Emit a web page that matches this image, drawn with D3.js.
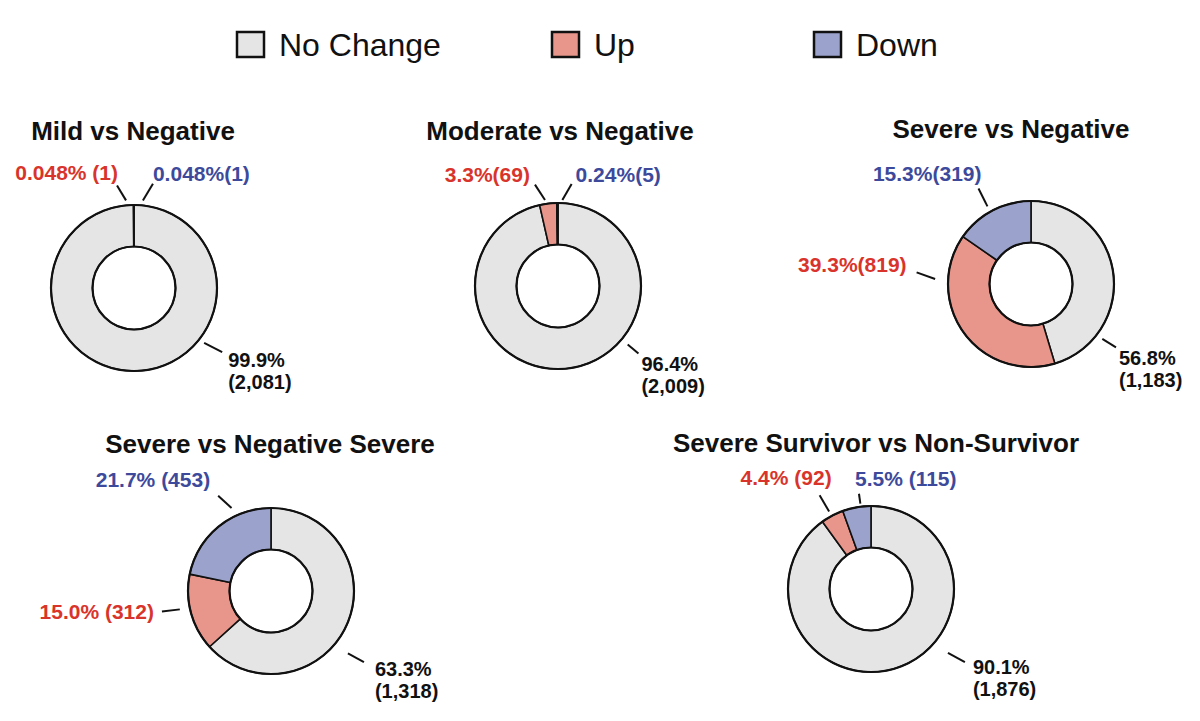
<!DOCTYPE html>
<html>
<head>
<meta charset="utf-8">
<script src="https://cdn.jsdelivr.net/npm/d3@7"></script>
<style>
  body { margin: 0; background: #fff; }
  svg { display: block; font-family: "Liberation Sans", Arial, Helvetica, sans-serif; }
</style>
</head>
<body>
<div id="chart"></div>
<script>
// data
const titles = ["Mild vs Negative", "Moderate vs Negative", "Severe vs Negative",
  "Severe vs Negative Severe", "Severe Survivor vs Non-Survivor"];
const totalProteins = 2083;
const noChangeCounts = [2081, 2009, 1183, 1318, 1876];
const upCounts = [1, 69, 819, 312, 92];
const downCounts = [1, 5, 319, 453, 115];
const noChangeLabels = ["99.9%", "96.4%", "56.8%", "63.3%", "90.1%"];
const upLabels = ["0.048% (1)", "3.3%(69)", "39.3%(819)", "15.0% (312)", "4.4% (92)"];
const downLabels = ["0.048%(1)", "0.24%(5)", "15.3%(319)", "21.7% (453)", "5.5% (115)"];
const legendLabels = ["No Change", "Up", "Down"];

const fills = ["#e5e5e5", "#e8968b", "#9ba3cc"];
const textColors = ["#111", "#d9342b", "#3d4a9c"];

// layout: donut centres, titles, leader lines [a1, r1, a2, r2, dx, dy, anchor]
const svgWidth = 1200;
const svgHeight = 721;
const outerR = 83;
const innerR = 41.5;
const centers = [[134, 288], [558, 286], [1031, 284], [271, 591], [871, 589]];
const titlePos = [[133, 140], [560, 140], [1011, 138], [270, 453], [876, 452]];
const leaders = [
  [[128, 89, 126, 109, 6, 15, "start"], [354.8, 88, 350.6, 104, 1, -5, "end"], [5.8, 88, 10.3, 106, 0, -3, "start"]],
  [[130, 91, 130, 105, 3, 18, "start"], [351.4, 87, 347.2, 104, -5, -3, "end"], [2.9, 86, 7.6, 103, 4, -2, "start"]],
  [[127.6, 90, 126.7, 106, 3, 18, "start"], [273, 96, 275.8, 115, -10, 0, "end"], [330.7, 89, 331.2, 109, 3, -7, "end"]],
  [[129, 99, 127.4, 117, 11, 14, "start"], [258.6, 93, 259.3, 111, -8, 7, "end"], [334.6, 92, 331, 109, -8, -9, "end"]],
  [[129.7, 100, 127.9, 119, 8, 12, "start"], [331.6, 88, 331.3, 107, 12, -10, "end"], [352.9, 86, 352.8, 96, -4, -8, "start"]]
];

const svg = d3.select("#chart")
  .append("svg")
  .attr("width", svgWidth)
  .attr("height", svgHeight);

svg.append("rect")
  .attr("width", svgWidth)
  .attr("height", svgHeight)
  .attr("fill", "#fff");

// legend
const legendX = [237, 552, 814];
const legend = svg.append("g");
legendLabels.forEach((lbl, i) => {
  legend.append("rect")
    .attr("x", legendX[i])
    .attr("y", 32)
    .attr("width", 27)
    .attr("height", 25)
    .attr("fill", fills[i])
    .attr("stroke", "#111")
    .attr("stroke-width", 2.5);
  legend.append("text")
    .attr("x", legendX[i] + 42)
    .attr("y", 56)
    .attr("font-size", 32)
    .attr("fill", "#111")
    .text(lbl);
});

const pie = d3.pie().sort(null).value(d => d);
const arc = d3.arc().innerRadius(innerR).outerRadius(outerR);
const rad = deg => deg * Math.PI / 180;

titles.forEach((title, i) => {
  const [cx, cy] = centers[i];
  // grey slice is what is left of the protein total after up/down
  const values = [totalProteins - upCounts[i] - downCounts[i], upCounts[i], downCounts[i]];
  const labels = [noChangeLabels[i], upLabels[i], downLabels[i]];

  svg.append("text")
    .attr("x", titlePos[i][0])
    .attr("y", titlePos[i][1])
    .attr("text-anchor", "middle")
    .attr("font-size", 26)
    .attr("font-weight", "bold")
    .attr("fill", "#111")
    .text(title);

  const g = svg.append("g")
    .attr("transform", `translate(${cx}, ${cy})`);

  g.selectAll("path")
    .data(pie(values))
    .enter()
    .append("path")
    .attr("d", arc)
    .attr("fill", (d, j) => fills[j])
    .attr("stroke", "#111")
    .attr("stroke-width", 1.6)
    .attr("stroke-linejoin", "round");

  [outerR, innerR].forEach(r => {
    g.append("circle")
      .attr("r", r)
      .attr("fill", "none")
      .attr("stroke", "#111")
      .attr("stroke-width", 2.2);
  });

  leaders[i].forEach((L, j) => {
    const [a1, r1, a2, r2, dx, dy, anchor] = L;
    const p1 = d3.pointRadial(rad(a1), r1);
    const p2 = d3.pointRadial(rad(a2), r2);
    g.append("line")
      .attr("x1", p1[0]).attr("y1", p1[1])
      .attr("x2", p2[0]).attr("y2", p2[1])
      .attr("stroke", "#111")
      .attr("stroke-width", 2);

    const t = g.append("text")
      .attr("x", p2[0] + dx)
      .attr("y", p2[1] + dy)
      .attr("text-anchor", anchor)
      .attr("font-weight", "bold")
      .attr("font-size", j === 0 ? 20 : 21)
      .attr("fill", textColors[j]);

    if (j === 0) {
      t.append("tspan").text(labels[j]);
      t.append("tspan")
        .attr("x", p2[0] + dx)
        .attr("dy", 22)
        .text(`(${d3.format(",")(noChangeCounts[i])})`);
    } else {
      t.text(labels[j]);
    }
  });
});
</script>
</body>
</html>
